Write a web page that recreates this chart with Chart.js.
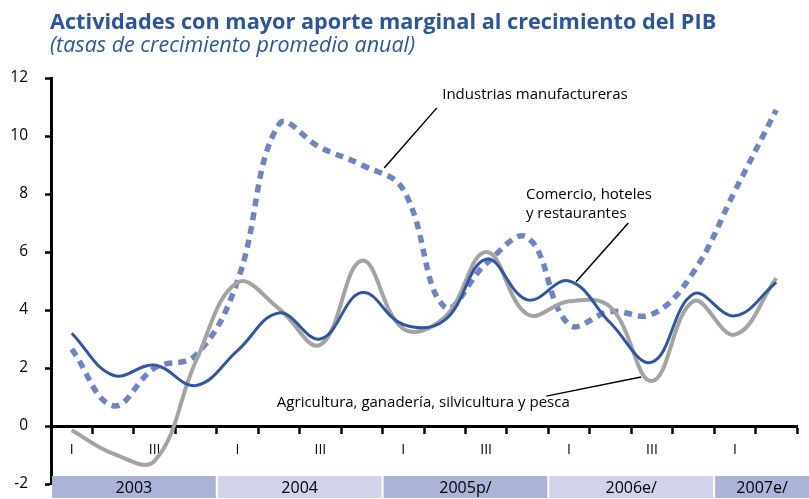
<!DOCTYPE html>
<html>
<head>
<meta charset="utf-8">
<script src="https://cdn.jsdelivr.net/npm/chart.js@4"></script>
<style>
  body { margin: 0; background: #fff; }
  #wrap { position: relative; width: 809px; height: 499px; }
  #title { position: absolute; left: 50px; top: 6px; font: bold 21.7px "Open Sans", sans-serif; color: #2b55a0; white-space: nowrap; }
  #subtitle { position: absolute; left: 50px; top: 29px; font: italic 21.5px "Open Sans", sans-serif; color: #2b55a0; white-space: nowrap; }
  canvas { position: absolute; left: 0; top: 0; }
</style>
</head>
<body>
<div id="wrap">
  <canvas id="chart" width="809" height="499"></canvas>
  <div id="title">Actividades con mayor aporte marginal al crecimiento del PIB</div>
  <div id="subtitle">(tasas de crecimiento promedio anual)</div>
</div>
<script>
// quarters 2003 I .. 2007 II
const quarters = ["2003-I","2003-II","2003-III","2003-IV","2004-I","2004-II","2004-III","2004-IV",
  "2005-I","2005-II","2005-III","2005-IV","2006-I","2006-II","2006-III","2006-IV","2007-I","2007-II"];
const tickLabels = ["I","","III","","I","","III","","I","","III","","I","","III","","I",""];
const years = ["2003","2004","2005p/","2006e/","2007e/"];
const yearQuarters = [4,4,4,4,2];

const comercio    = [3.2,1.75,2.1,1.4,2.6,3.9,3.0,4.6,3.5,3.65,5.75,4.35,5.0,3.55,2.2,4.55,3.8,4.95];
const agricultura = [-0.15,-0.95,-1.2,2.25,4.95,4.05,2.8,5.7,3.35,3.75,6.0,3.85,4.3,4.1,1.55,4.3,3.15,5.1];
const industrias  = [2.65,0.7,2.0,2.45,5.0,10.4,9.6,9.0,8.15,4.1,5.6,6.5,3.5,3.95,3.85,5.3,8.1,10.9];

const font = "'Open Sans', sans-serif";

// year bands under the axis
const yearBands = {
  id: "yearBands",
  afterDraw(chart) {
    const ctx = chart.ctx;
    const x = chart.scales.x, y = chart.scales.y;
    const top = y.getPixelForValue(-2) - 8;
    const h = 22;
    let start = 0;
    years.forEach((yr, i) => {
      const x0 = x.getPixelForValue(start - 0.5) + 1;
      let x1 = x.getPixelForValue(start + yearQuarters[i] - 0.5) - 1;
      if (i === years.length - 1) x1 = chart.width;
      ctx.fillStyle = i % 2 === 0 ? "#acb3d9" : "#d0d3ea";
      ctx.fillRect(x0, top, x1 - x0, h);
      ctx.fillStyle = "#000";
      ctx.font = "16px " + font;
      ctx.textAlign = "center";
      ctx.textBaseline = "middle";
      ctx.fillText(yr, (x0 + x1) / 2, top + h / 2 + 1);
      start += yearQuarters[i];
    });
  }
};

// series labels with leader lines
const notes = [
  {text: ["Industrias manufactureras"], at: [8.94, 11.41], line: [[8.81, 10.97], [7.54, 8.9]]},
  {text: ["Comercio, hoteles", "y restaurantes"], at: [10.96, 7.97], line: [[13.43, 7.0], [12.17, 4.97]]},
  {text: ["Agricultura, ganadería, silvicultura y pesca"], at: [4.95, 0.79], line: [[11.45, 1.03], [13.74, 1.69]]}
];
const seriesNotes = {
  id: "seriesNotes",
  afterDatasetsDraw(chart) {
    const ctx = chart.ctx;
    const x = chart.scales.x, y = chart.scales.y;
    ctx.save();
    ctx.fillStyle = "#000";
    ctx.strokeStyle = "#000";
    ctx.lineWidth = 1.5;
    ctx.font = "15px " + font;
    ctx.textAlign = "left";
    ctx.textBaseline = "middle";
    notes.forEach(n => {
      n.text.forEach((t, k) => ctx.fillText(t, x.getPixelForValue(n.at[0]), y.getPixelForValue(n.at[1]) + k * 19));
      ctx.beginPath();
      ctx.moveTo(x.getPixelForValue(n.line[0][0]), y.getPixelForValue(n.line[0][1]));
      ctx.lineTo(x.getPixelForValue(n.line[1][0]), y.getPixelForValue(n.line[1][1]));
      ctx.stroke();
    });
    ctx.restore();
  }
};

let ctx = document.getElementById("chart").getContext("2d");

new Chart(ctx, {
  type: "line",
  data: {
    labels: quarters,
    datasets: [
      {label: "Comercio, hoteles y restaurantes", data: comercio, borderColor: "#2f55a4", borderWidth: 3},
      {label: "Agricultura, ganadería, silvicultura y pesca", data: agricultura, borderColor: "#a3a3a3", borderWidth: 4},
      {label: "Industrias manufactureras", data: industrias, borderColor: "#6f84c4", borderWidth: 5.5, borderDash: [8, 6]}
    ]
  },
  options: {
    responsive: false,
    animation: false,
    devicePixelRatio: 1,
    layout: {padding: {top: 78, right: 12, bottom: 15, left: 0}},
    elements: {point: {radius: 0}, line: {tension: 0.4, fill: false}},
    plugins: {legend: {display: false}, tooltip: {enabled: false}},
    scales: {
      x: {
        type: "category",
        position: {y: 0},
        offset: true,
        grid: {offset: true, drawOnChartArea: false, tickLength: 6, tickWidth: 2.5, color: "#000"},
        border: {color: "#000", width: 3},
        ticks: {
          autoSkip: false, maxRotation: 0, color: "#000", padding: 10,
          font: {family: font, size: 14},
          callback: (v, i) => tickLabels[i]
        },
        // axis sits at y = 0, keep it from taking room at the bottom
        afterFit: s => { s.height = 0; s.paddingTop = 0; s.paddingBottom = 0; }
      },
      y: {
        min: -2, max: 12,
        grid: {drawOnChartArea: false, tickLength: 6, tickWidth: 2.5, color: "#000"},
        border: {color: "#000", width: 3},
        ticks: {stepSize: 2, color: "#000", padding: 17, font: {family: font, size: 15.5}},
        // fixed width, and don't let the label padding push the plot area up
        afterFit: s => { s.width = 51; s.paddingTop = 0; s.paddingBottom = 0; }
      }
    }
  },
  plugins: [yearBands, seriesNotes]
});
</script>
</body>
</html>
